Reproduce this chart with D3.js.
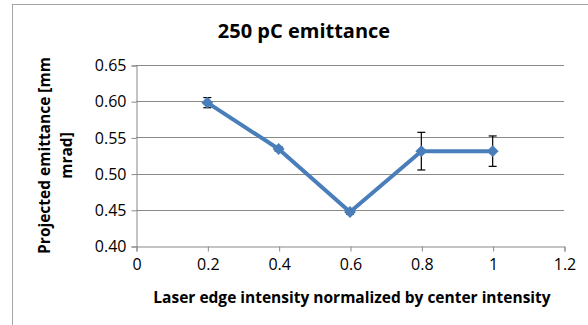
<!DOCTYPE html>
<html>
<head>
<meta charset="utf-8">
<script src="https://cdn.jsdelivr.net/npm/d3@7"></script>
<style>
  body { margin: 0; background: #fff; }
  svg text { font-family: "Open Sans", "Noto Sans", sans-serif; }
</style>
</head>
<body>
<div id="chart"></div>
<script>
// values
var xValues = [0.2, 0.4, 0.6, 0.8, 1.0];
var emittance = [0.598, 0.534, 0.447, 0.531, 0.531];
var errors = [0.007, 0.003, 0.003, 0.026, 0.021];
var xTicks = [0, 0.2, 0.4, 0.6, 0.8, 1, 1.2];
var yTicks = [0.40, 0.45, 0.50, 0.55, 0.60, 0.65];

(function chart(){
var width = 588, height = 325;
var pLeft = 136, pRight = 564, pTop = 65, pBottom = 246;

var svg = d3.select("#chart").append("svg")
    .attr("width", width)
    .attr("height", height);

// outer chart frame
svg.append("rect")
    .attr("x", 12.5).attr("y", 4.5)
    .attr("width", 600).attr("height", 340)
    .style("fill", "none")
    .style("stroke", "#a6a6a6");

var x = d3.scaleLinear().domain([0, 1.2]).range([pLeft, pRight]);
var y = d3.scaleLinear().domain([0.40, 0.65]).range([pBottom, pTop]);

// gridlines
svg.append("g")
    .selectAll("line")
    .data(yTicks.slice(1))
    .enter().append("line")
    .attr("x1", pLeft).attr("x2", pRight)
    .attr("y1", function(d){ return Math.round(y(d)) + 0.5; })
    .attr("y2", function(d){ return Math.round(y(d)) + 0.5; })
    .style("stroke", "#898989")
    .style("stroke-width", 1);

// y axis
var yAxis = svg.append("g")
    .attr("transform", "translate(" + (pLeft + 0.5) + ",0.5)")
    .call(d3.axisLeft(y).tickValues(yTicks).tickFormat(d3.format(".2f")).tickSize(5).tickPadding(5));

// x axis
var xAxis = svg.append("g")
    .attr("transform", "translate(0.5," + (pBottom + 0.5) + ")")
    .call(d3.axisBottom(x).tickValues(xTicks).tickFormat(function(d){ return d; }).tickSize(5).tickPadding(7));

[yAxis, xAxis].forEach(function(a){
  a.select(".domain").style("stroke", "#898989");
  a.selectAll(".tick line").style("stroke", "#898989");
  a.selectAll("text")
    .style("font-size", "16px")
    .style("fill", "#000");
});

// error bars
var eb = svg.append("g")
    .selectAll("g")
    .data(xValues)
    .enter().append("g");

eb.append("line")
    .attr("x1", function(d){ return x(d); })
    .attr("x2", function(d){ return x(d); })
    .attr("y1", function(d, i){ return y(emittance[i] + errors[i]); })
    .attr("y2", function(d, i){ return y(emittance[i] - errors[i]); })
    .style("stroke", "#000")
    .style("stroke-width", 1.2);

[1, -1].forEach(function(s){
  eb.append("line")
    .attr("x1", function(d){ return x(d) - 4; })
    .attr("x2", function(d){ return x(d) + 4; })
    .attr("y1", function(d, i){ return y(emittance[i] + s * errors[i]); })
    .attr("y2", function(d, i){ return y(emittance[i] + s * errors[i]); })
    .style("stroke", "#000")
    .style("stroke-width", 1.2);
});

// data line
var line = d3.line()
    .x(function(d, i){ return x(xValues[i]); })
    .y(function(d){ return y(d); });

svg.append("path")
    .datum(emittance)
    .attr("d", line)
    .style("fill", "none")
    .style("stroke", "#4a7ebb")
    .style("stroke-width", 4)
    .style("stroke-linejoin", "round");

// diamond markers
svg.append("g")
    .selectAll("path")
    .data(emittance)
    .enter().append("path")
    .attr("d", d3.symbol().type(d3.symbolDiamond2).size(90))
    .attr("transform", function(d, i){ return "translate(" + x(xValues[i]) + "," + y(d) + ")"; })
    .style("fill", "#4a7ebb");

// title
svg.append("text")
    .attr("x", 304).attr("y", 38)
    .attr("text-anchor", "middle")
    .text("250 pC emittance")
    .style("font-size", "20px")
    .style("font-weight", "bold");

// x title
svg.append("text")
    .attr("x", 352).attr("y", 303)
    .attr("text-anchor", "middle")
    .text("Laser edge intensity normalized by center intensity")
    .style("font-size", "15.5px")
    .style("font-weight", "bold");

// y title, two lines
var yt = svg.append("text")
    .attr("transform", "translate(50," + ((pTop + pBottom) / 2) + ") rotate(-90)")
    .attr("text-anchor", "middle")
    .style("font-size", "15.5px")
    .style("font-weight", "bold");
yt.append("tspan").attr("x", 0).attr("dy", 0).text("Projected emittance [mm");
yt.append("tspan").attr("x", 0).attr("dy", 22).text("mrad]");
}());
</script>
</body>
</html>
